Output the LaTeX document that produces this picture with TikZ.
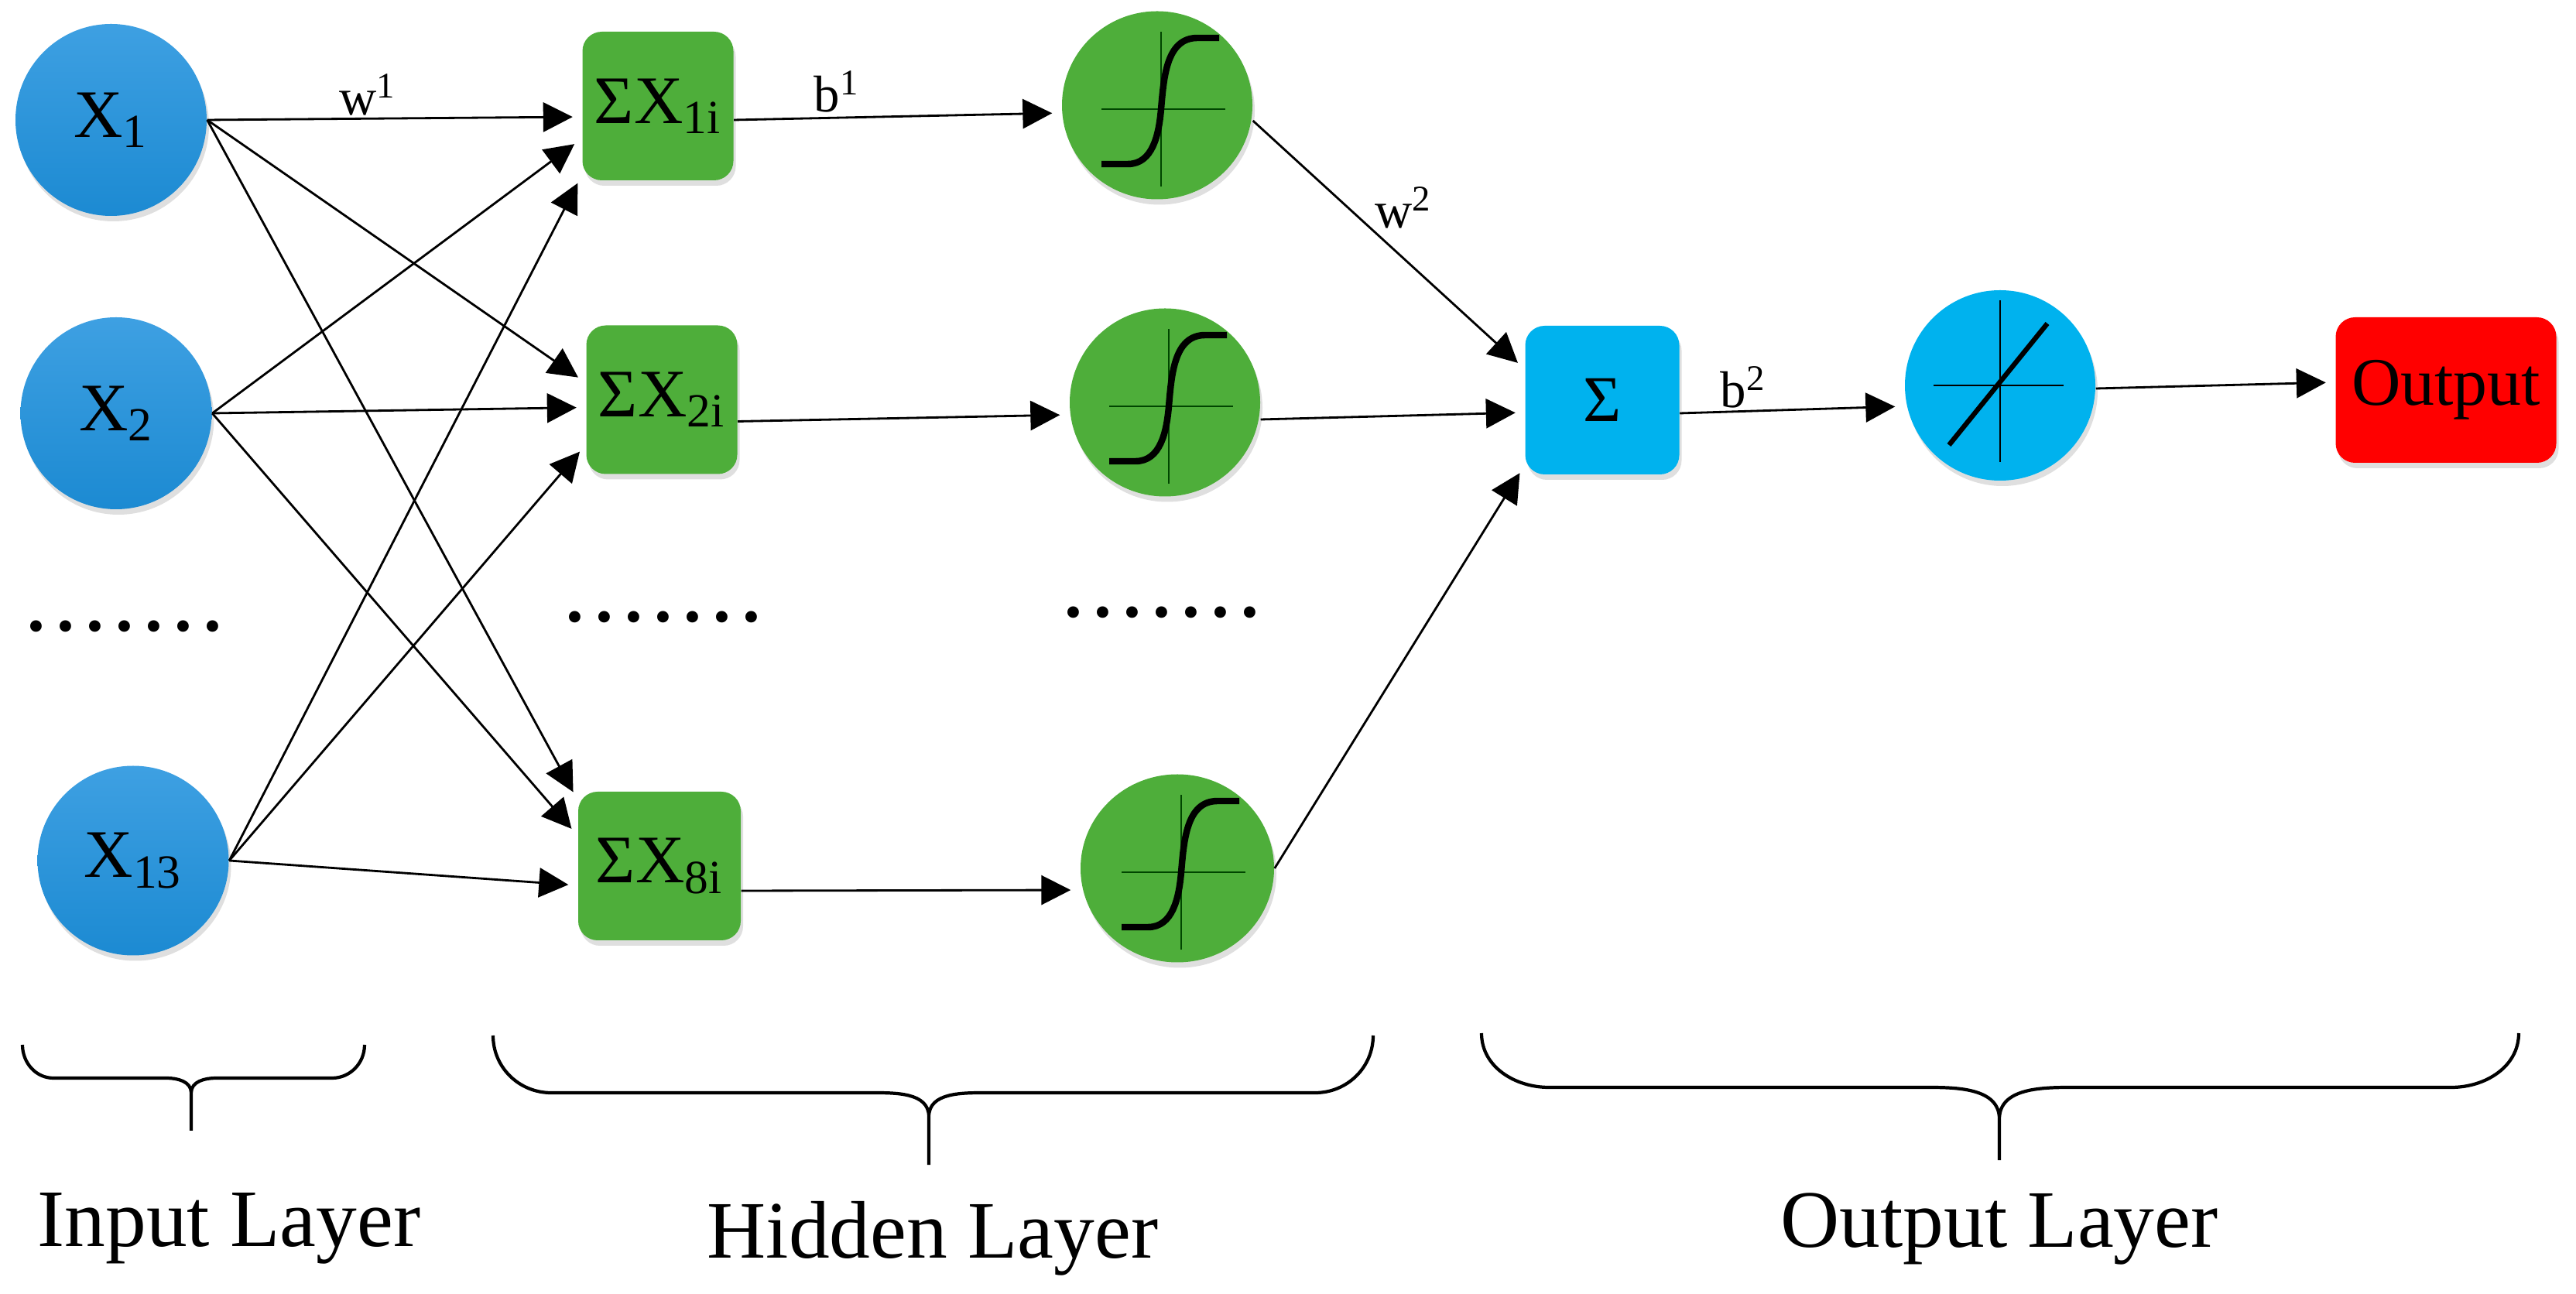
\documentclass[tikz,border=0pt]{standalone}
\usepackage{fontspec}
\setmainfont{Liberation Serif}
\usepackage{tikz}
\usetikzlibrary{arrows.meta,shapes.geometric,shadows}
\definecolor{inblue}{RGB}{44,148,216}
\definecolor{intop}{RGB}{62,160,226}
\definecolor{inbot}{RGB}{28,138,210}
\definecolor{hidgreen}{RGB}{78,174,58}
\definecolor{axgreen}{RGB}{0,70,0}
\definecolor{outcyan}{RGB}{0,178,238}
\definecolor{outred}{RGB}{255,0,0}

\begin{document}
\begin{tikzpicture}[
  shd/.style={drop shadow={shadow xshift=0.03cm,shadow yshift=-0.07cm,opacity=0.25}},
  inp/.style={ellipse,shd,top color=intop,bottom color=inbot,minimum width=2.47cm,minimum height=2.48cm,inner sep=0pt,font=\fontsize{25}{27}\selectfont},
  sumbox/.style={rectangle,rounded corners=0.25cm,shd,fill=hidgreen,minimum width=1.95cm,minimum height=1.92cm,inner sep=0pt,font=\fontsize{25}{27}\selectfont},
  act/.style={ellipse,shd,fill=hidgreen,minimum width=2.46cm,minimum height=2.43cm,inner sep=0pt},
  con/.style={-{Triangle[length=0.38cm,width=0.38cm]},line width=0.8pt,shorten >=0.12cm},
  lab/.style={font=\fontsize{19}{21}\selectfont},
  lay/.style={font=\fontsize{30}{32}\selectfont,anchor=base},
  dotrow/.style={font=\fontsize{26}{28}\selectfont\bfseries},
  brc/.style={line width=1.2pt},
  ax/.style={line width=0.7pt,axgreen},
  sig/.style={line width=2.4pt}
]
\useasboundingbox (0,0) rectangle (33.28,16.71);

\node[inp] (x1) at (1.435,15.16) {X\textsubscript{1}};
\node[inp] (x2) at (1.50,11.37) {X\textsubscript{2}};
\node[inp,minimum height=2.45cm] (x13) at (1.72,5.59) {X\textsubscript{13}};
\node[dotrow] (dl) at (1.61,8.62) {.\,.\,.\,.\,.\,.\,.};

\node[sumbox] (s1) at (8.50,15.34) {ΣX\textsubscript{1i}};
\node[sumbox] (s2) at (8.55,11.545) {ΣX\textsubscript{2i}};
\node[sumbox,minimum width=2.1cm] (s8) at (8.52,5.52) {ΣX\textsubscript{8i}};
\node[dotrow] (dm) at (8.57,8.74) {.\,.\,.\,.\,.\,.\,.};

\node[act] (h1) at (14.95,15.35) {};
\node[act] (h2) at (15.05,11.51) {};
\node[act,minimum width=2.5cm] (h3) at (15.21,5.49) {};
\node[dotrow] (dr) at (15.01,8.80) {.\,.\,.\,.\,.\,.\,.};

\node[sumbox,fill=outcyan,minimum width=1.99cm,font=\fontsize{24}{26}\selectfont] (sum) at (20.70,11.54) {Σ};
\node[act,fill=outcyan,minimum height=2.46cm] (lin) at (25.84,11.73) {};
\node[sumbox,fill=outred,minimum width=2.85cm,minimum height=1.88cm] (res) at (31.60,11.67) {Output};

\foreach \n in {h1,h2,h3} {
  \begin{scope}[shift={(\n)}]
    \draw[ax] (-0.72,-0.05) -- (0.88,-0.05) (0.05,-1.05) -- (0.05,0.95);
    \draw[sig] (-0.72,-0.76) -- (-0.38,-0.76) to[out=0,in=-95] (0.05,-0.05) to[out=85,in=180] (0.52,0.87) -- (0.8,0.87);
  \end{scope}
}
\begin{scope}[shift={(lin)}]
  \draw[ax,black] (-0.86,0) -- (0.82,0) (0,-0.99) -- (0,1.1);
  \draw[line width=1.8pt] (-0.66,-0.77) -- (0.61,0.8);
\end{scope}

\foreach \a/\b/\d in {x1/s1/-0.14,x1/s2/0.22,x1/s8/0.85,x2/s1/-0.42,x2/s2/-0.10,x2/s8/0.39,x13/s1/-0.89,x13/s2/-0.58,x13/s8/-0.25}
  \draw[con] (\a.east) -- ([yshift=\d cm]\b.west);

\draw[con] ([yshift=-0.18cm]s1.east) -- ([yshift=-0.1cm]h1.west);
\draw[con] ([yshift=-0.28cm]s2.east) -- ([yshift=-0.16cm]h2.west);
\draw[con] ([yshift=-0.32cm]s8.east) -- ([yshift=-0.28cm]h3.west);
\draw[con] ([yshift=-0.2cm]h1.east) -- ([yshift=0.40cm]sum.west);
\draw[con] ([yshift=-0.22cm]h2.east) -- ([yshift=-0.16cm]sum.west);
\draw[con] (h3.east) -- ([yshift=-0.84cm]sum.west);
\draw[con] ([yshift=-0.17cm]sum.east) -- ([yshift=-0.27cm]lin.west);
\draw[con] ([yshift=-0.04cm]lin.east) -- ([yshift=0.10cm]res.west);

\node[lab] (w1) at (4.75,15.49) {w\textsuperscript{1}};
\node[lab] (b1) at (10.81,15.53) {b\textsuperscript{1}};
\node[lab] (w2) at (18.13,14.03) {w\textsuperscript{2}};
\node[lab] (b2) at (22.52,11.71) {b\textsuperscript{2}};

\draw[brc] (0.29,3.21) to[out=-90,in=180] (0.69,2.78) -- (2.15,2.78) to[out=0,in=90] (2.47,2.59) -- (2.47,2.10)
  (2.47,2.59) to[out=90,in=180] (2.79,2.78) -- (4.29,2.78) to[out=0,in=-90] (4.71,3.21);
\draw[brc] (6.37,3.33) to[out=-90,in=180] (7.12,2.59) -- (11.25,2.59) to[out=0,in=90] (12.0,2.28) -- (12.0,1.66)
  (12.0,2.28) to[out=90,in=180] (12.75,2.59) -- (16.99,2.59) to[out=0,in=-90] (17.74,3.33);
\draw[brc] (19.14,3.36) to[out=-90,in=180] (20.01,2.66) -- (24.91,2.66) to[out=0,in=90] (25.83,2.25) -- (25.83,1.72)
  (25.83,2.25) to[out=90,in=180] (26.75,2.66) -- (31.67,2.66) to[out=0,in=-90] (32.54,3.36);

\node[lay] (lin1) at (2.96,0.61) {Input Layer};
\node[lay] (lhid) at (12.05,0.46) {Hidden Layer};
\node[lay] (lout) at (25.83,0.60) {Output Layer};
\end{tikzpicture}
\end{document}
